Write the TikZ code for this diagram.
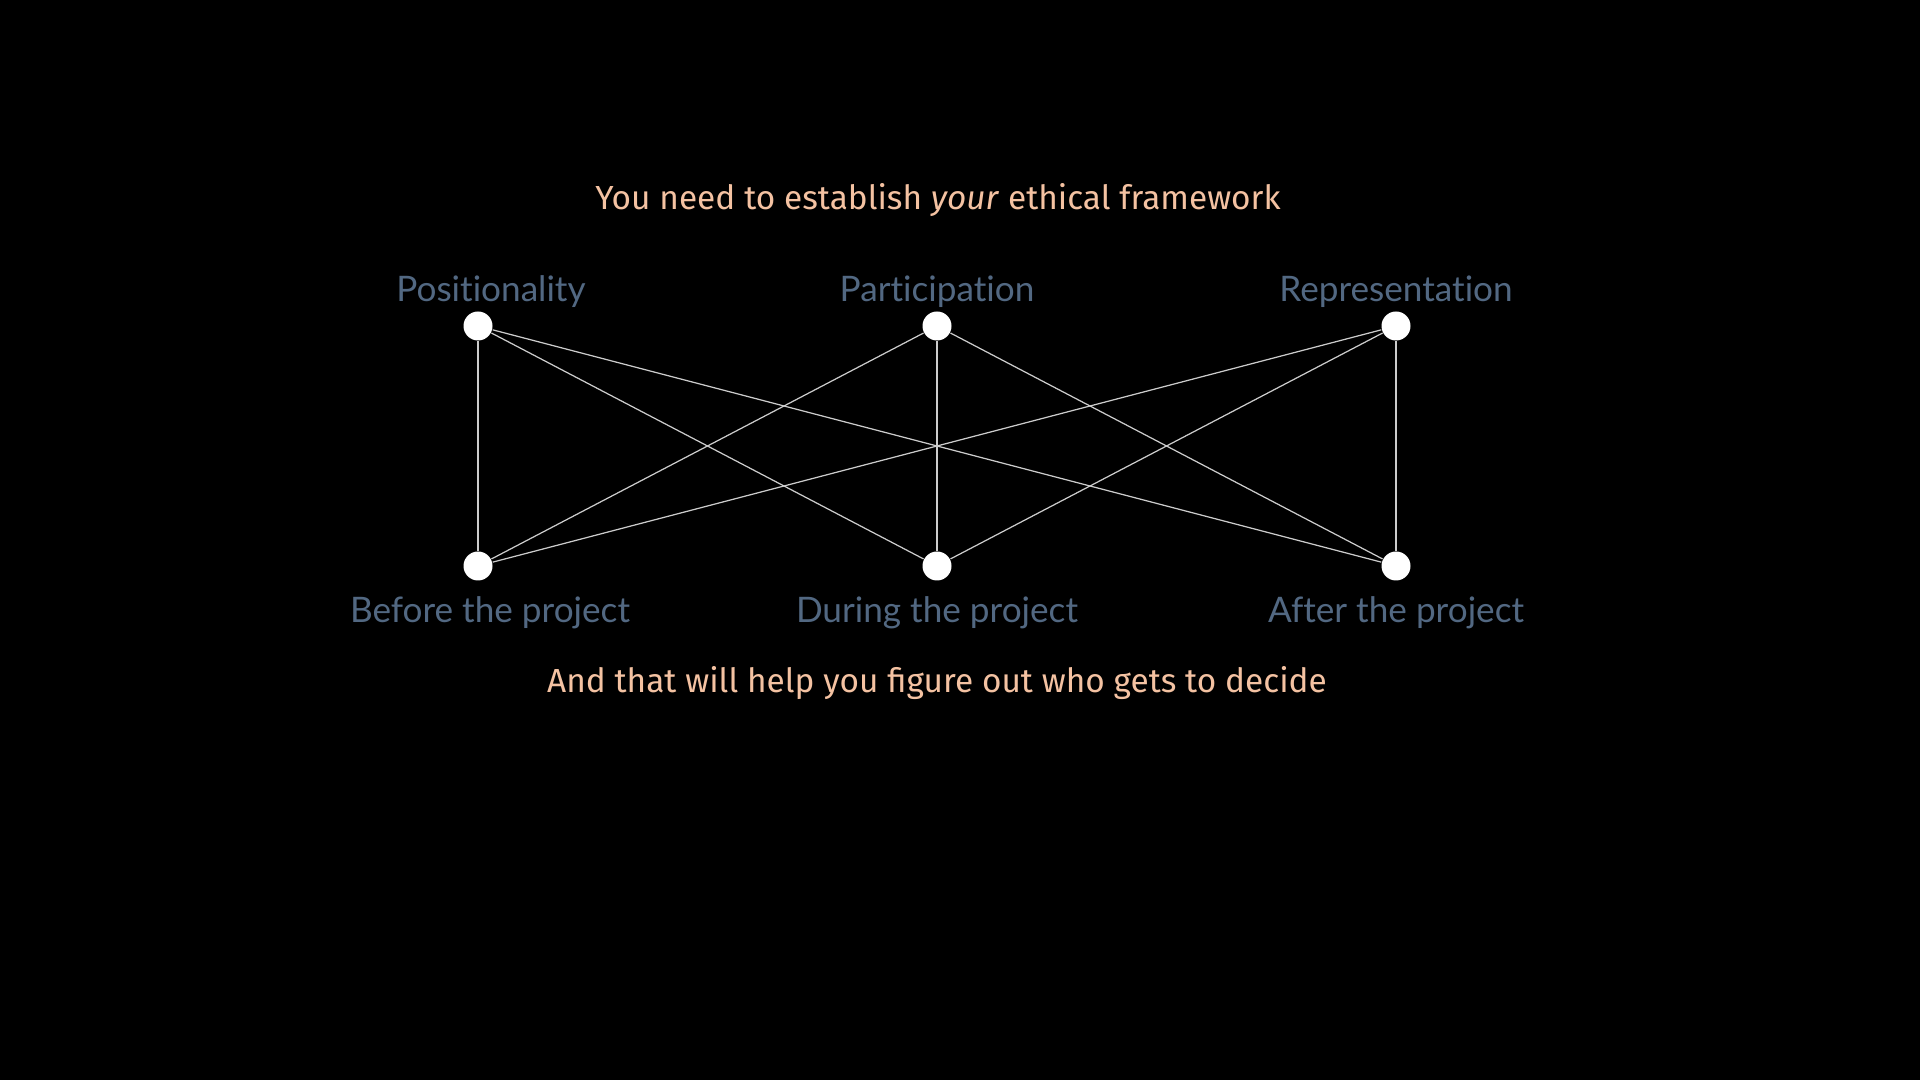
\documentclass[tikz,border=0pt]{standalone}
\usepackage{fontspec}
\setmainfont{Fira Sans}
\newfontfamily\labelfont[Ligatures={NoCommon,NoRare}]{Lato}
\usetikzlibrary{positioning}
\definecolor{peach}{HTML}{F4C2A2}
\definecolor{slate}{HTML}{526882}
\definecolor{wire}{HTML}{CCCCCC}
\tikzset{
    dot/.style={circle, fill=white, inner sep=0pt, minimum size=0.29cm},
    stage/.style={text=slate, font=\labelfont\fontsize{10}{12}\selectfont},
    headline/.style={text=peach, font=\fontsize{9.5}{12}\selectfont},
    wire/.style={draw=wire, line width=0.35pt}
}
\begin{document}
\begin{tikzpicture}
        \fill[black] (0,0) rectangle (19.2,10.8);
        \useasboundingbox (0,0) rectangle (19.2,10.8);
        % top row
        \node[dot] (pos) at (4.78,7.54) {};
        \node[dot] (par) at (9.37,7.54) {};
        \node[dot] (rep) at (13.96,7.54) {};
        % bottom row
        \node[dot] (bef) at (4.78,5.14) {};
        \node[dot] (dur) at (9.37,5.14) {};
        \node[dot] (aft) at (13.96,5.14) {};
        \foreach \a in {pos,par,rep}
            \foreach \b in {bef,dur,aft}
                \draw[wire] (\a) -- (\b);
        \node[stage] (posl) at (4.91,7.88) {Positionality};
        \node[stage] (parl) at (9.37,7.88) {Participation};
        \node[stage] (repl) at (13.96,7.88) {Representation};
        \node[stage] (befl) at (4.90,4.67) {Before the project};
        \node[stage] (durl) at (9.37,4.67) {During the project};
        \node[stage] (aftl) at (13.96,4.67) {After the project};
        \node[headline] (title) at (9.38,8.80) {You need to establish \textit{your} ethical framework};
        \node[headline] (foot) at (9.37,3.97) {And that will help you figure out who gets to decide};
\end{tikzpicture}
\end{document}
